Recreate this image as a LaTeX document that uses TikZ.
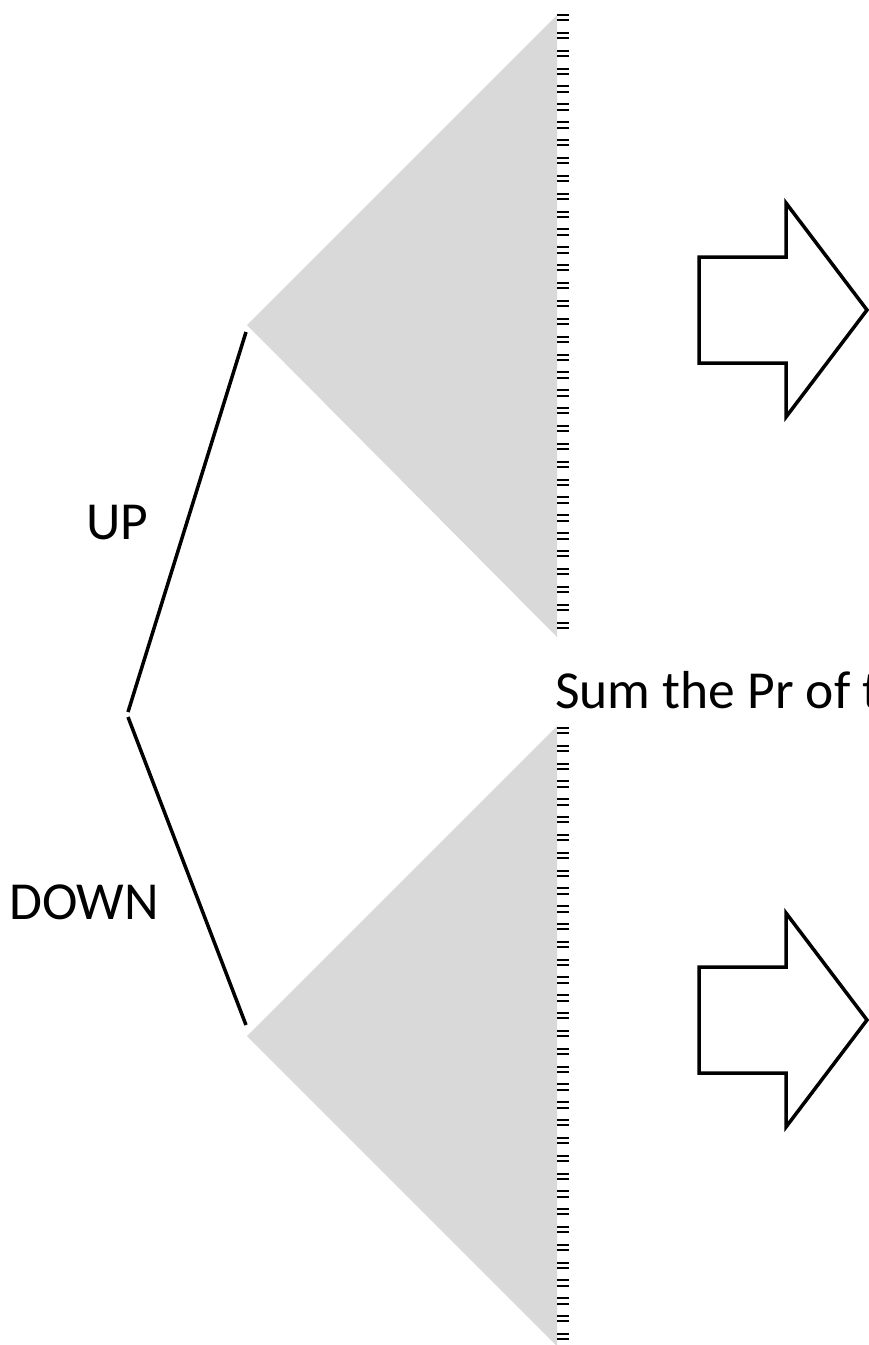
\documentclass[tikz,border=0pt]{standalone}
\usepackage{fontspec}
\setmainfont{Carlito}
\begin{document}
\begin{tikzpicture}[x=1pt,y=-1pt,
  branch/.style={line width=3.5pt},
  fan/.style={fill=black!15, draw=none},
  leaf/.style={line width=2pt},
  bigarrow/.style={draw=black, fill=white, line width=3.5pt, line join=miter},
  lbl/.style={anchor=base west, inner sep=0pt, font=\fontsize{53.5}{60}\selectfont}]
\useasboundingbox (0,0) rectangle (869,1345);
\clip (0,0) rectangle (869,1345);

% tree points
\coordinate (upA)   at (128,712);
\coordinate (upB)   at (246,332);
\coordinate (dnA)   at (128,717);
\coordinate (dnB)   at (246,1025);
\coordinate (upApex) at (247,325);
\coordinate (dnApex) at (247,1036);

% shaded subtrees
\fill[fan] (upApex) -- (557,15) -- (557,637) -- cycle;
\fill[fan] (dnApex) -- (557,726) -- (557,1346) -- cycle;

% leaf ticks along both fans
\foreach \i in {0,...,34} {
  \draw[leaf] (557,15+\i*17.87) -- (569,15+\i*17.87);
  \draw[leaf] (557,20.3+\i*17.87) -- (569,20.3+\i*17.87);
  \draw[leaf] (557,728+\i*17.82) -- (569,728+\i*17.82);
  \draw[leaf] (557,733.3+\i*17.82) -- (569,733.3+\i*17.82);
}

% branches
\draw[branch] (upA) -- (upB);
\draw[branch] (dnA) -- (dnB);

% labels
\node[lbl] (up) at (86,539) {UP};
\node[lbl] (down) at (9,919) {DOWN};
\node[lbl] (sum) at (555,708) {Sum the Pr of t};

% block arrows
\draw[bigarrow] (699,257) -- (786,257) -- (786,203) -- (867,310)
  -- (786,417) -- (786,363) -- (699,363) -- cycle;
\draw[bigarrow] (699,967) -- (786,967) -- (786,913) -- (867,1020)
  -- (786,1127) -- (786,1073) -- (699,1073) -- cycle;
\end{tikzpicture}
\end{document}
